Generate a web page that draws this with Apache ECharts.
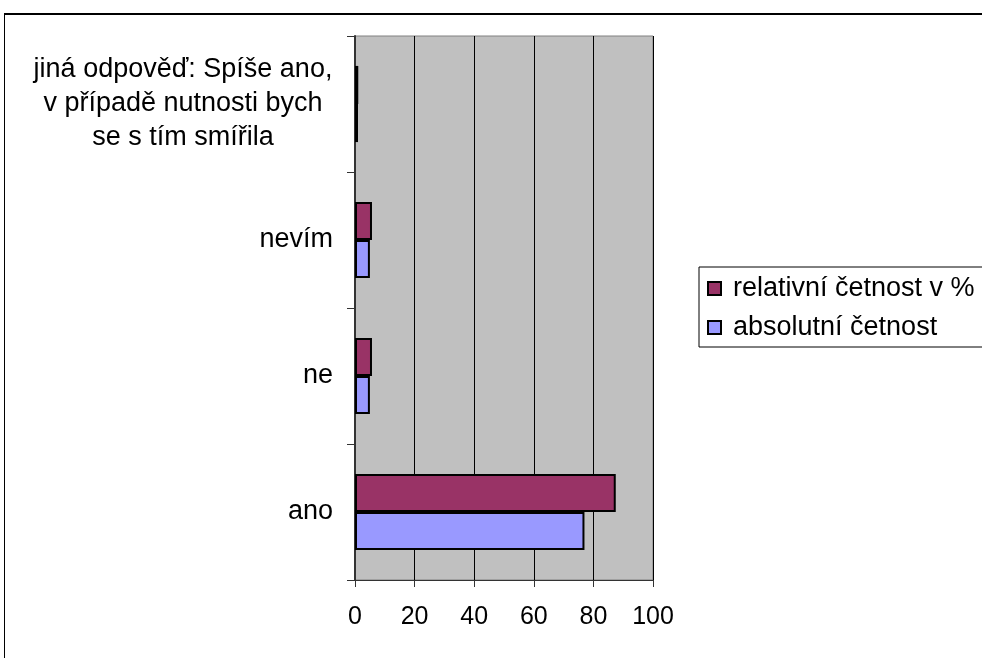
<!DOCTYPE html>
<html><head><meta charset="utf-8">
<script src="https://cdn.jsdelivr.net/npm/echarts@6/dist/echarts.min.js"></script>
<style>
html,body{margin:0;padding:0;background:#fff;overflow:hidden;}
#frame{position:absolute;left:4px;top:13px;width:1100px;height:800px;border-top:2px solid #000;border-left:1px solid #000;}
#c{position:absolute;left:0;top:0;width:982px;height:658px;}
</style></head>
<body>
<div id="frame"></div>
<div id="c"></div>
<script>
const categories = ['ano', 'ne', 'nevím', 'jiná odpověď: Spíše ano,\nv případě nutnosti bych\nse s tím smířila'];
const absolutni = [77, 5, 5, 1];
const relativni = [87.5, 5.7, 5.7, 1.1];
const xTicks = [0, 20, 40, 60, 80, 100];

const chart = echarts.init(document.getElementById('c'));
const font = 'Liberation Sans, Arial, sans-serif';
chart.setOption({
  animation: false,
  grid: {left: 355, top: 36, right: 329, bottom: 78, show: true, backgroundColor: '#c0c0c0', borderColor: '#808080', borderWidth: 1},
  xAxis: {
    type: 'value', min: xTicks[0], max: xTicks[xTicks.length-1], interval: 20,
    axisLine: {show: true, lineStyle: {color: '#333', width: 1}},
    axisTick: {show: true, length: 7, lineStyle: {color: '#333'}},
    splitLine: {show: true, lineStyle: {color: '#000', width: 1}},
    axisLabel: {color: '#000', fontSize: 25, fontFamily: font, margin: 25}
  },
  yAxis: {
    type: 'category', data: categories,
    axisLine: {show: true, lineStyle: {color: '#333', width: 2}},
    axisTick: {show: true, length: 8, lineStyle: {color: '#333'}},
    axisLabel: {
      color: '#000', fontSize: 27, fontFamily: font, margin: 22, lineHeight: 34,
      formatter: function (v) {
        if (v.indexOf('\n') < 0) return v;
        return v.split('\n').map(s => '{c|' + s + '}').join('\n');
      },
      rich: {c: {width: 300, align: 'center', fontSize: 27, fontFamily: font, color: '#000', lineHeight: 34}}
    }
  },
  legend: {
    data: ['relativní četnost v %', 'absolutní četnost'],
    orient: 'vertical', left: 699, top: 267,
    itemWidth: 13, itemHeight: 13, itemGap: 12,
    padding: [8, 20, 6, 8],
    borderColor: '#000', borderWidth: 1,
    textStyle: {fontSize: 27, fontFamily: font, color: '#000', padding: [0, 0, 0, 7]},
    icon: 'rect'
  },
  series: [
    {name: 'relativní četnost v %', type: 'bar', data: relativni, barGap: '0%', barCategoryGap: '44%',
     itemStyle: {color: '#993366', borderColor: '#000', borderWidth: 2}},
    {name: 'absolutní četnost', type: 'bar', data: absolutni, barGap: '0%', barCategoryGap: '44%',
     itemStyle: {color: '#9999ff', borderColor: '#000', borderWidth: 2}}
  ]
});
</script>
</body></html>
